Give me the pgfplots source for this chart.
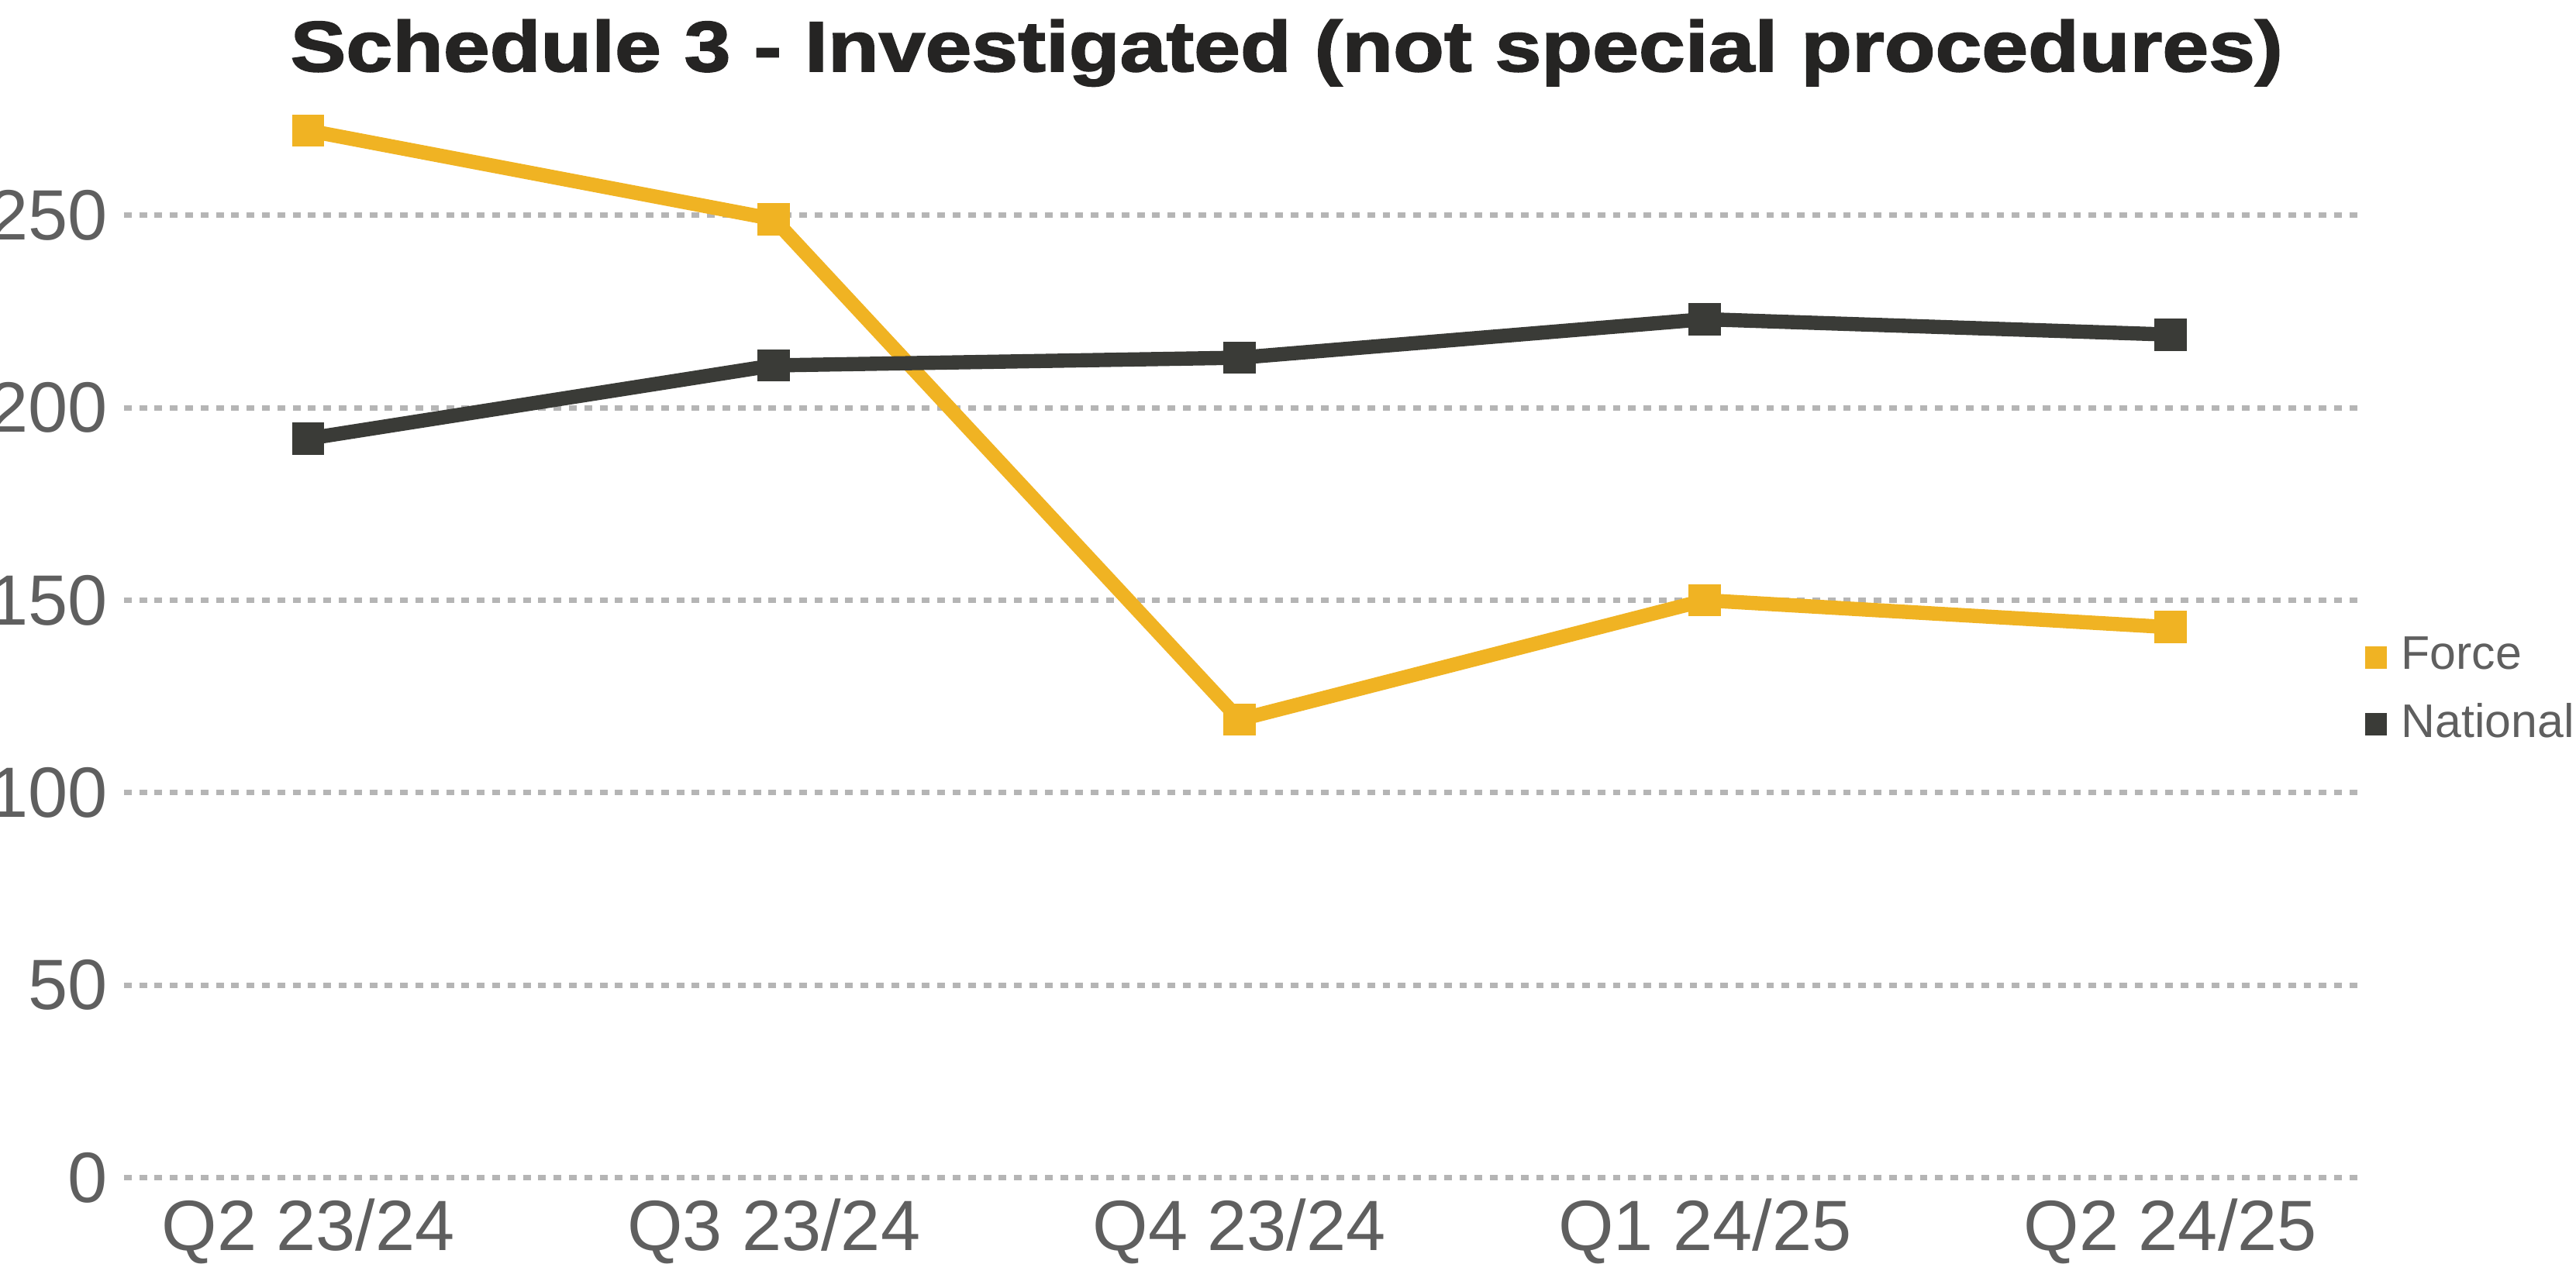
\documentclass[border=0pt]{standalone}
\usepackage{fontspec}
\setmainfont{Liberation Sans}
\newfontfamily\titlefont{Liberation Sans Bold}[FakeBold=2, FakeStretch=1.17]
\usepackage{pgfplots}
\pgfplotsset{compat=1.18}

\definecolor{forcecol}{HTML}{F0B323}
\definecolor{natcol}{HTML}{3A3B37}
\definecolor{gridgray}{HTML}{B5B5B5}
\definecolor{tickgray}{HTML}{5F5F5F}
\definecolor{titlecol}{HTML}{252423}

\begin{document}
\begin{tikzpicture}
\path[use as bounding box] (-22.6pt,-15.7pt) rectangle (447.3pt,214.9pt);
\begin{axis}[
  at={(0,0)}, anchor=south west,
  scale only axis, width=407.7pt, height=196.7pt,
  xmin=-0.396, xmax=4.405, ymin=0, ymax=280,
  xtick={0,1,2,3,4},
  xticklabels={Q2 23/24,Q3 23/24,Q4 23/24,Q1 24/25,Q2 24/25},
  ytick={0,50,100,150,200,250},
  axis line style={draw=none},
  major tick length=0pt,
  ymajorgrids,
  major grid style={color=gridgray, line width=1pt, dash pattern=on 1.4pt off 1.4pt},
  tick label style={font=\fontsize{13}{15}\selectfont, text=tickgray},
  /pgf/number format/assume math mode=true,
  yticklabel style={inner sep=0pt, xshift=-2.8pt},
  xticklabel style={inner sep=0pt, yshift=-3.7pt},
  clip=false,
  legend style={at={(1.0027,0.4513)}, anchor=west, draw=none, fill=none,
    inner sep=0pt, outer sep=0pt, font=\fontsize{8.6}{10}\selectfont,
    text=tickgray, nodes={inner sep=0pt}, row sep=4.6pt, column sep=2.6pt,
    cells={anchor=west}},
  legend image code/.code={\path[#1, draw=none, fill] (0pt,-2pt) rectangle (4pt,2pt);},
]
\addplot[color=forcecol, line width=2.6pt, mark=square*,
  mark size=2.8pt, mark options={solid, line width=0.3pt}]
  coordinates {(0,272) (1,249) (2,119) (3,150) (4,143)};
\addlegendentry{Force}
\addplot[color=natcol, line width=2.6pt, mark=square*,
  mark size=2.8pt, mark options={solid, line width=0.3pt}]
  coordinates {(0,192) (1,211) (2,213) (3,223) (4,219)};
\addlegendentry{National}
\end{axis}
\node[anchor=base, text=titlecol, inner sep=0pt,
  font=\titlefont\fontsize{13}{15}\selectfont]
  at (212.1pt,201.9pt) {Schedule 3 - Investigated (not special procedures)};
\end{tikzpicture}
\end{document}
